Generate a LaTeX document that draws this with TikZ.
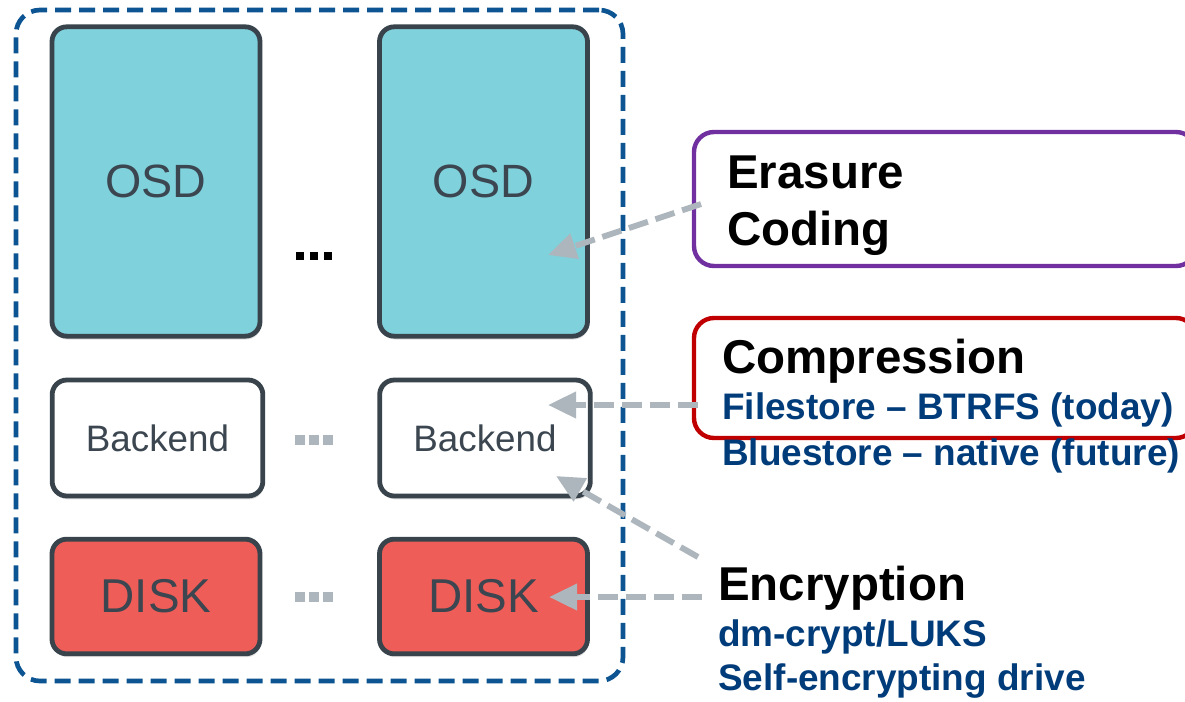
\documentclass[tikz,border=0pt]{standalone}
\usepackage{fontspec}
\setmainfont{Liberation Sans}
\usetikzlibrary{arrows.meta,shadows}
\definecolor{osdfill}{HTML}{7FD1DC}
\definecolor{diskfill}{HTML}{EF5D58}
\definecolor{boxline}{HTML}{38434B}
\definecolor{grouplne}{HTML}{0D5492}
\definecolor{arrowgray}{HTML}{ADB6BC}
\definecolor{ecpurple}{HTML}{7030A0}
\definecolor{compred}{HTML}{C00000}
\definecolor{subblue}{HTML}{003C7A}
\definecolor{osdtext}{HTML}{3B4650}
\tikzset{
  unitbox/.style={draw=boxline, line width=3.6pt, rounded corners=11pt, inner sep=0pt,
    text=osdtext, drop shadow={shadow xshift=0.8pt, shadow yshift=-2.5pt, opacity=0.25}},
  osdbox/.style={unitbox, fill=osdfill, minimum width=156pt, minimum height=232pt,
    font=\fontsize{35}{40}\selectfont},
  backbox/.style={unitbox, fill=white, minimum width=158pt, minimum height=87pt,
    font=\fontsize{27.6}{32}\selectfont},
  diskbox/.style={unitbox, fill=diskfill, minimum width=156pt, minimum height=86pt,
    font=\fontsize{35.6}{40}\selectfont},
  featbox/.style={draw, line width=3.3pt, rounded corners=15pt, fill=none, inner sep=0pt},
  headtxt/.style={anchor=base west, inner sep=0pt, font=\fontsize{35.6}{40}\selectfont\bfseries},
  subtxt/.style={anchor=base west, inner sep=0pt, text=subblue, font=\fontsize{27.7}{32}\selectfont\bfseries},
  conn/.style={draw=arrowgray, line width=4.4pt, dash pattern=on 15pt off 6pt,
    -{Triangle[length=21pt,width=19pt,fill=arrowgray]}},
  dotsq/.style={minimum size=6pt, inner sep=0pt},
}
\begin{document}
\begin{tikzpicture}[x=0.75pt,y=-0.75pt]
\clip (0,0) rectangle (1185,701);
\fill[white] (0,0) rectangle (1185,701);

% outer group
\node[draw=grouplne, line width=3.5pt, dash pattern=on 12pt off 6pt, rounded corners=18pt,
      minimum width=455.25pt, minimum height=503.25pt, inner sep=0pt] (group) at (319.5,345.5) {};

% OSDs
\node[osdbox] (osd1) at (156,181.5) {OSD};
\node[osdbox] (osd2) at (483.5,181.5) {OSD};
% Backends
\node[backbox] (be1) at (157.5,438) {Backend};
\node[backbox] (be2) at (485,438) {Backend};
% Disks
\node[diskbox] (disk1) at (156,596.5) {DISK};
\node[diskbox] (disk2) at (483.5,596.5) {DISK};

% ellipsis squares
\foreach \x/\n in {300/a,314/b,328/c}{
  \node[dotsq, fill=black, minimum size=6.5pt] (od\n) at (\x,256) {};
  \node[dotsq, fill=arrowgray, minimum size=7pt] (bd\n) at (\x,440) {};
  \node[dotsq, fill=arrowgray, minimum size=7pt] (dd\n) at (\x,597) {};
}

% feature boxes
\node[featbox, draw=ecpurple, minimum width=376.5pt, minimum height=100.5pt] (ec) at (945,199) {};
\node[featbox, draw=compred, minimum width=376.5pt, minimum height=90pt] (comp) at (945,378) {};

% texts
\node[headtxt] (ectxt1) at (727,188) {Erasure};
\node[headtxt] (ectxt2) at (727,245) {Coding};
\node[headtxt] (comptxt) at (722,373) {Compression};
\node[subtxt] (fs) at (722,419) {Filestore – BTRFS (today)};
\node[subtxt] (bs) at (722,465) {Bluestore – native (future)};
\node[headtxt] (enc) at (718,600) {Encryption};
\node[subtxt] (dm) at (718,646) {dm-crypt/LUKS};
\node[subtxt] (sed) at (718,690) {Self-encrypting drive};

% connector ends
\coordinate (ecTail) at (701,204);
\coordinate (ecTip) at (548,255);
\coordinate (compTail) at (698,405);
\coordinate (compTip) at (548,405);
\coordinate (encTailA) at (698,557);
\coordinate (beTip) at (556,476);
\coordinate (encTailB) at (702,597);
\coordinate (diskTip) at (549,597);

\draw[conn] (ecTail) -- (ecTip);
\draw[conn] (compTail) -- (compTip);
\draw[conn] (encTailA) -- (beTip);
\draw[conn] (encTailB) -- (diskTip);
\end{tikzpicture}
\end{document}
